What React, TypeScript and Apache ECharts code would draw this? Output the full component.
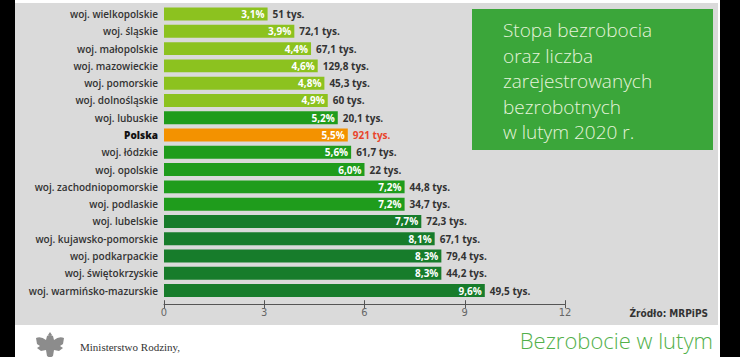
import React, { useEffect, useRef } from "react";
import * as echarts from "echarts";

const categories = [
  "woj. wielkopolskie",
  "woj. śląskie",
  "woj. małopolskie",
  "woj. mazowieckie",
  "woj. pomorskie",
  "woj. dolnośląskie",
  "woj. lubuskie",
  "Polska",
  "woj. łódzkie",
  "woj. opolskie",
  "woj. zachodniopomorskie",
  "woj. podlaskie",
  "woj. lubelskie",
  "woj. kujawsko-pomorskie",
  "woj. podkarpackie",
  "woj. świętokrzyskie",
  "woj. warmińsko-mazurskie",
];
const rates = [3.1, 3.9, 4.4, 4.6, 4.8, 4.9, 5.2, 5.5, 5.6, 6.0, 7.2, 7.2, 7.7, 8.1, 8.3, 8.3, 9.6];
const unemployedThousands = [51, 72.1, 67.1, 129.8, 45.3, 60, 20.1, 921, 61.7, 22, 44.8, 34.7, 72.3, 67.1, 79.4, 44.2, 49.5];
const groups = ["low", "low", "low", "low", "low", "low", "mid", "pl", "mid", "mid", "mid", "mid", "high", "high", "high", "high", "high"];
const xTicks = [0, 3, 6, 9, 12];
const titleLines = ["Stopa bezrobocia", "oraz liczba", "zarejestrowanych", "bezrobotnych", "w lutym 2020 r."];

const groupColors: Record<string, string> = {
  low: "#8cc21f",
  mid: "#1f9c1c",
  pl: "#f39200",
  high: "#177c2b",
};

const fmt = (v: number, d: number) => v.toFixed(d).replace(".", ",");
const fmtTys = (v: number) => (Number.isInteger(v) ? String(v) : fmt(v, 1)) + " tys.";

const eaglePath =
  "M15 0 L17 3 L13 3 Z M12 4 Q15 2 18 4 L19 8 Q24 4 29 6 L28 12 L25 14 L28 16 L24 19 L19 18 L18 24 L15 26 L12 24 L11 18 L6 19 L2 16 L5 14 L2 12 L1 6 Q6 4 11 8 Z";
echarts.graphic.registerShape("eagle", echarts.graphic.extendPath(eaglePath, {}) as any);

export default function App() {
  const ref = useRef<HTMLDivElement>(null);
  useEffect(() => {
    if (!ref.current) return;
    const chart = echarts.init(ref.current, undefined, { renderer: "svg" });
    const font = "'Open Sans', 'DejaVu Sans', sans-serif";
    const option: any = {
      animation: false,
      backgroundColor: "#ffffff",
      grid: { left: 164, right: 175, top: 5.4, bottom: 57.8, containLabel: false },
      xAxis: [
        {
          type: "value",
          min: 0,
          max: 12,
          interval: 3,
          offset: 5,
          axisLine: { show: true, lineStyle: { color: "#555", width: 1 } },
          axisTick: { show: true, length: 4, lineStyle: { color: "#555" } },
          splitLine: { show: false },
          axisLabel: {
            color: "#666",
            fontSize: 11,
            margin: 3,
            fontFamily: "'Liberation Sans Narrow', 'DejaVu Sans Condensed', sans-serif",
            formatter: (v: number) => (xTicks.includes(v) ? String(v) : ""),
          },
        },
        {
          type: "value",
          min: 0,
          max: 12,
          interval: 3,
          offset: 5,
          position: "bottom",
          axisLine: { show: false },
          axisTick: { show: true, inside: true, length: 4, lineStyle: { color: "#555" } },
          splitLine: { show: false },
          axisLabel: { show: false },
        },
      ],
      yAxis: {
        type: "category",
        data: categories,
        inverse: true,
        axisLine: { show: false },
        axisTick: { show: false },
        axisLabel: {
          margin: 6,
          fontFamily: font,
          fontSize: 10,
          fontWeight: 600,
          color: "#333",
          formatter: (v: string) => (v === "Polska" ? "{pl|" + v + "}" : v),
          rich: {
            pl: { fontFamily: font, fontSize: 10, fontWeight: 800, color: "#111" },
          },
        },
      },
      series: [
        {
          type: "bar",
          xAxisIndex: 0,
          barCategoryGap: "25%",
          data: rates.map((v, i) => ({
            value: v,
            itemStyle: { color: groupColors[groups[i]] },
          })),
          label: {
            show: true,
            position: "insideRight",
            distance: 3,
            color: "#ffffff",
            fontFamily: font,
            fontSize: 10,
            fontWeight: 700,
            formatter: (p: any) => fmt(p.value, 1) + "%",
          },
        },
        {
          type: "bar",
          xAxisIndex: 0,
          barGap: "-100%",
          barCategoryGap: "25%",
          silent: true,
          itemStyle: { color: "rgba(0,0,0,0)" },
          data: rates.map((v, i) => ({
            value: v,
            label: { color: groups[i] === "pl" ? "#e8452c" : "#333" },
          })),
          label: {
            show: true,
            position: "right",
            distance: 5,
            fontFamily: font,
            fontSize: 10,
            fontWeight: 700,
            formatter: (p: any) => fmtTys(unemployedThousands[p.dataIndex]),
          },
        },
      ],
      graphic: [
        { type: "rect", z: -10, shape: { x: 15, y: 3, width: 703, height: 322 }, style: { fill: "#dadada" } },
        { type: "rect", z: -10, shape: { x: 0, y: 0, width: 15, height: 357 }, style: { fill: "#000" } },
        { type: "rect", z: -10, shape: { x: 720, y: 0, width: 20, height: 357 }, style: { fill: "#000" } },
        { type: "rect", z: -9, shape: { x: 472, y: 9, width: 241, height: 141 }, style: { fill: "#3ba63a" } },
        ...titleLines.map((t, i) => ({
          type: "text",
          z: -8,
          x: 503,
          y: 30 + i * 25.5,
          style: {
            text: t,
            fill: "#e6f4dc",
            font: "300 19px 'Open Sans', 'Lato', sans-serif",
            textVerticalAlign: "middle",
          },
        })),
        {
          type: "text",
          x: 708,
          y: 313,
          style: {
            text: "Źródło: MRPiPS",
            fill: "#333",
            font: "bold 10px 'Liberation Sans Narrow', 'DejaVu Sans Condensed', sans-serif",
            textAlign: "right",
            textVerticalAlign: "middle",
          },
        },
        {
          type: "eagle",
          x: 35,
          y: 332,
          scaleX: 1,
          scaleY: 1,
          style: { fill: "#8c8c8c" },
        },
        {
          type: "text",
          x: 80,
          y: 347,
          style: {
            text: "Ministerstwo Rodziny,",
            fill: "#333",
            font: "11px 'Liberation Serif', 'DejaVu Serif', serif",
            textVerticalAlign: "middle",
          },
        },
        {
          type: "text",
          x: 713,
          y: 340,
          style: {
            text: "Bezrobocie w lutym",
            fill: "#52b04a",
            font: "300 22px 'Open Sans', 'Lato', sans-serif",
            textAlign: "right",
            textVerticalAlign: "middle",
          },
        },
      ],
    };
    chart.setOption(option);
    return () => chart.dispose();
  }, []);
  return (
    <div
      ref={ref}
      style={{ position: "fixed", left: 0, top: 0, width: 740, height: 357 }}
    />
  );
}
